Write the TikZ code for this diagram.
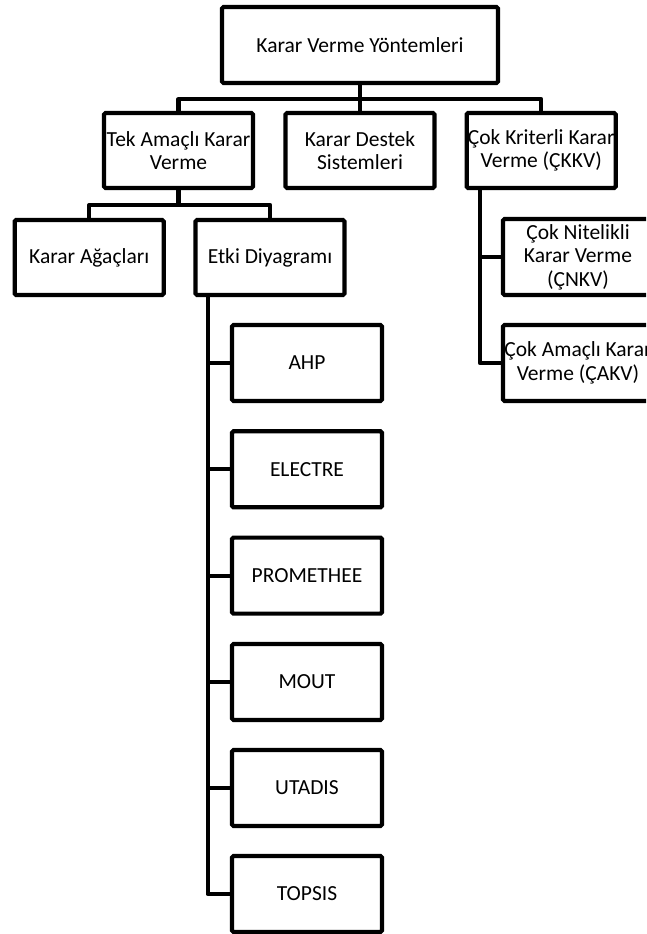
\documentclass[tikz,border=0pt]{standalone}
\usepackage{fontspec}
\setmainfont{Carlito}
\usetikzlibrary{calc}
\begin{document}
\begin{tikzpicture}[x=1pt,y=-1pt,
  box/.style={draw=black,line width=4.2pt,rounded corners=1.5pt,fill=white,
    minimum width=149pt,minimum height=75pt,align=center,inner sep=0pt,
    font=\fontsize{21.5}{23.5}\selectfont},
  wide/.style={minimum width=150pt,minimum height=76pt},
  conn/.style={draw=black,line width=4.2pt,line join=round}]
\clip (0,0) rectangle (646,934);
\fill[white] (0,0) rectangle (646,934);

% top level
\node[box,minimum width=276pt,minimum height=76pt] (root) at (360,45) {Karar Verme Yöntemleri};

% second level
\node[box] (tek) at (178.5,150.5) {Tek Amaçlı Karar\\Verme};
\node[box] (kd)  at (360,150.5)   {Karar Destek\\Sistemleri};
\node[box] (ck)  at (541.2,150.5) {Çok Kriterli Karar\\Verme (ÇKKV)};

% third level
\node[box] (ka)   at (89.2,257.5) {Karar Ağaçları};
\node[box] (etki) at (270,257.5)  {Etki Diyagramı};

% methods under the influence diagram
\node[box,wide] (ahp)       at (307,363)   {AHP};
\node[box,wide] (electre)   at (307,469.3) {ELECTRE};
\node[box,wide] (promethee) at (307,575.6) {PROMETHEE};
\node[box,wide] (mout)      at (307,682)   {MOUT};
\node[box,wide] (utadis)    at (307,788)   {UTADIS};
\node[box,wide] (topsis)    at (307,894)   {TOPSIS};

% multi-criteria branches
\node[box,wide] (cnkv) at (578,257) {Çok Nitelikli\\Karar Verme\\(ÇNKV)};
\node[box,wide] (cakv) at (578,363) {Çok Amaçlı Karar\\Verme (ÇAKV)};

% connectors from the root
\coordinate (bus1) at (360,99);
\draw[conn] (root.south) -- (bus1);
\draw[conn] (tek.north) |- (bus1) -| (ck.north);
\draw[conn] (kd.north) -- (bus1);

% connectors from the single-objective branch
\coordinate (bus2) at (178.5,205);
\draw[conn] (tek.south) -- (bus2);
\draw[conn] (ka.north) |- (bus2) -| (etki.north);

% spine below the influence diagram
\path (etki.south west) ++(14.3,0) coordinate (espine);
\draw[conn] (espine) |- (topsis.west);
\foreach \n in {ahp,electre,promethee,mout,utadis}
  \draw[conn] (\n.west) -- (\n.west -| espine);

% spine below the multi-criteria node
\path (ck.south west) ++(15.3,0) coordinate (cspine);
\draw[conn] (cspine) |- (cakv.west);
\draw[conn] (cnkv.west) -- (cnkv.west -| cspine);
\end{tikzpicture}
\end{document}
